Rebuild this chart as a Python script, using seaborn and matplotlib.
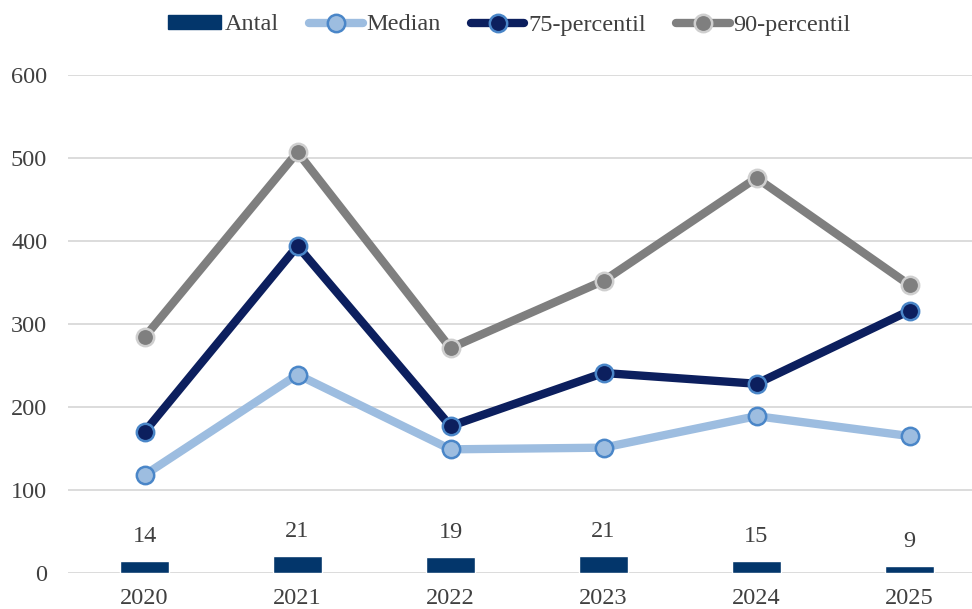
import numpy as np
import pandas as pd
import matplotlib
matplotlib.use("Agg")
import matplotlib.pyplot as plt
import seaborn as sns
from matplotlib.lines import Line2D
from matplotlib.patches import Patch

years = ["2020", "2021", "2022", "2023", "2024", "2025"]
antal = [14, 21, 19, 21, 15, 9]
median = [118, 239, 149, 151, 189, 165]
p75 = [170, 394, 177, 241, 228, 316]
p90 = [284, 507, 271, 352, 476, 347]

sns.set_theme(style="white")
plt.rcParams["font.family"] = ["Liberation Serif", "DejaVu Serif"]

fig = plt.figure(figsize=(9.72, 6.09), dpi=100)
ax = fig.add_axes([68 / 972, 36 / 609, 904 / 972, 498 / 609])

FS = 17.5
text_col = "#404040"
bar_col = "#03366b"
med_col = "#9dbde0"
blue_edge = "#4a86c8"
p75_col = "#0c1f5e"
p90_col = "#7f7f7f"
p90_edge = "#cfcfcf"
LW = 6.0
MS = 12.5
MEW = 1.8

df = pd.DataFrame({"year": years, "antal": antal})
sns.barplot(data=df, x="year", y="antal", color=bar_col, width=0.32,
            saturation=1, ax=ax, zorder=2)
for c in ax.containers:
    ax.bar_label(c, labels=[str(v) for v in antal], padding=10,
                 fontsize=FS, color=text_col)

xpos = np.arange(len(years))
series = [
    (median, med_col, med_col, blue_edge),
    (p75, p75_col, p75_col, blue_edge),
    (p90, p90_col, p90_col, p90_edge),
]
for vals, lc, mfc, mec in series:
    sns.lineplot(x=xpos, y=vals, ax=ax, color=lc, linewidth=LW, marker="o",
                 markersize=MS, markerfacecolor=mfc, markeredgecolor=mec,
                 markeredgewidth=MEW, zorder=3, legend=False)

ax.set_xlim(-0.5, -0.5 + 904 / 153)
ax.set_ylim(0, 600)
ax.set_yticks([0, 100, 200, 300, 400, 500, 600])
ax.yaxis.grid(True, color="#d9d9d9", linewidth=1.3)
ax.set_axisbelow(True)
for s in ax.spines.values():
    s.set_visible(False)
ax.set_xlabel("")
ax.set_ylabel("")
ax.tick_params(axis="both", length=0, labelsize=FS, colors=text_col)
ax.tick_params(axis="x", pad=11)
ax.tick_params(axis="y", pad=15)

handles = [
    Patch(facecolor=bar_col, edgecolor=bar_col),
    Line2D([], [], color=med_col, lw=LW, marker="o", ms=MS,
           mfc=med_col, mec=blue_edge, mew=MEW),
    Line2D([], [], color=p75_col, lw=LW, marker="o", ms=MS,
           mfc=p75_col, mec=blue_edge, mew=MEW),
    Line2D([], [], color=p90_col, lw=LW, marker="o", ms=MS,
           mfc=p90_col, mec=p90_edge, mew=MEW),
]
labels = ["Antal", "Median", "75-percentil", "90-percentil"]
fig.legend(handles, labels, loc="center", bbox_to_anchor=(509 / 972, 1 - 25 / 609),
           ncol=4, frameon=False, fontsize=FS, handlelength=2.2,
           handletextpad=0.15, columnspacing=1.25, labelcolor=text_col,
           handleheight=0.55)

fig.savefig("out.png", dpi=100)
